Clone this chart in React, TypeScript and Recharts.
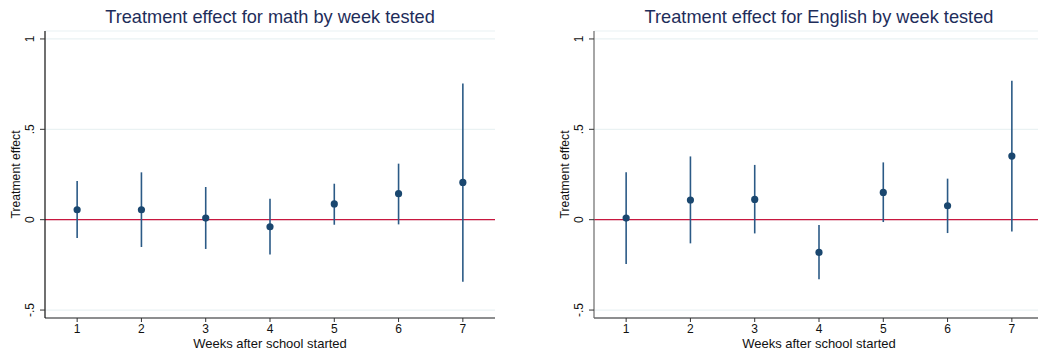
import React from "react";
import {
  ComposedChart,
  Scatter,
  ErrorBar,
  XAxis,
  YAxis,
  CartesianGrid,
  ReferenceLine,
} from "recharts";

const weeks = [1, 2, 3, 4, 5, 6, 7];
const xTicks = [1, 2, 3, 4, 5, 6, 7];
const yTicks = [-0.5, 0, 0.5, 1];
const yTickLabels = ["-.5", "0", ".5", "1"];

const mathEst = [0.055, 0.055, 0.009, -0.039, 0.087, 0.144, 0.206];
const mathLo = [-0.101, -0.151, -0.162, -0.192, -0.028, -0.026, -0.343];
const mathHi = [0.214, 0.262, 0.181, 0.116, 0.199, 0.31, 0.753];

const engEst = [0.009, 0.109, 0.112, -0.181, 0.151, 0.077, 0.352];
const engLo = [-0.245, -0.131, -0.076, -0.33, -0.013, -0.074, -0.066];
const engHi = [0.262, 0.35, 0.303, -0.029, 0.317, 0.227, 0.769];

const FONT = "'Liberation Sans', Arial, sans-serif";
const NAVY = "#1a476f";
const BAR = "#2b5a86";

function build(est: number[], lo: number[], hi: number[]) {
  return weeks.map((w, i) => ({
    week: w,
    est: est[i],
    err: [est[i] - lo[i], hi[i] - est[i]],
  }));
}

const YTick = (props: any) => {
  const { x, y, payload } = props;
  const idx = yTicks.indexOf(payload.value);
  const label = idx >= 0 ? yTickLabels[idx] : String(payload.value);
  const bx = x - 5.5;
  return (
    <text
      x={bx}
      y={y}
      transform={`rotate(-90 ${bx} ${y})`}
      textAnchor="middle"
      fontSize={12}
      fontFamily={FONT}
      fill="#111"
    >
      {label}
    </text>
  );
};

const XTick = (props: any) => {
  const { x, y, payload } = props;
  return (
    <text x={x} y={y + 11} textAnchor="middle" fontSize={12} fontFamily={FONT} fill="#111">
      {payload.value}
    </text>
  );
};

const Dot = (props: any) => {
  const { cx, cy } = props;
  return <circle cx={cx} cy={cy} r={3.6} fill={NAVY} />;
};

function Panel({
  title,
  est,
  lo,
  hi,
  left,
  yAxisColor,
}: {
  title: string;
  est: number[];
  lo: number[];
  hi: number[];
  left: number;
  yAxisColor: string;
}) {
  const data = build(est, lo, hi);
  return (
    <div style={{ position: "absolute", left, top: 0, width: 520, height: 350 }}>
      <div
        style={{
          position: "absolute",
          left: 45,
          width: 450,
          top: 6,
          textAlign: "center",
          fontFamily: FONT,
          fontSize: 18.2,
          lineHeight: "22px",
          color: "#1e2d5a",
          whiteSpace: "nowrap",
        }}
      >
        {title}
      </div>
      <ComposedChart
        width={520}
        height={350}
        data={data}
        margin={{ top: 31, right: 25, bottom: 0, left: 0 }}
      >
        <CartesianGrid vertical={false} stroke="#eaf2f3" strokeWidth={1.2} />
        <XAxis
          type="number"
          dataKey="week"
          domain={[0.5, 7.5]}
          ticks={xTicks}
          allowDataOverflow
          height={32}
          tickSize={4}
          tickMargin={0}
          tick={<XTick />}
          stroke="#6b6b6b"
          axisLine={{ stroke: "#6b6b6b", strokeWidth: 1.6 }}
          tickLine={{ stroke: "#333" }}
          label={{
            value: "Weeks after school started",
            position: "insideBottom",
            offset: 2.5,
            fontSize: 13,
            fontFamily: FONT,
            fill: "#111",
          }}
        />
        <YAxis
          type="number"
          dataKey="est"
          domain={[-0.544, 1.044]}
          ticks={yTicks}
          allowDataOverflow
          width={45}
          tickSize={5}
          tickMargin={0}
          tick={<YTick />}
          axisLine={{ stroke: yAxisColor, strokeWidth: 1.2 }}
          tickLine={{ stroke: "#333" }}
          label={{
            content: (p: any) => {
              const vb = p.viewBox || { x: 0, y: 31, width: 45, height: 287 };
              const cx = 19.5;
              const cy = vb.y + vb.height / 2;
              return (
                <text
                  x={cx}
                  y={cy}
                  transform={`rotate(-90 ${cx} ${cy})`}
                  textAnchor="middle"
                  fontSize={12.2}
                  fontFamily={FONT}
                  fill="#111"
                >
                  Treatment effect
                </text>
              );
            },
          }}
        />
        <ReferenceLine y={0} stroke="#c8173f" strokeWidth={1.2} />
        <Scatter dataKey="est" shape={<Dot />} isAnimationActive={false}>
          <ErrorBar
            dataKey="err"
            direction="y"
            width={0}
            stroke={BAR}
            strokeWidth={1.6}
            isAnimationActive={false}
          />
        </Scatter>
      </ComposedChart>
    </div>
  );
}

export default function App() {
  return (
    <div
      style={{
        position: "absolute",
        left: 0,
        top: 0,
        width: 1038,
        height: 350,
        overflow: "hidden",
        background: "#fff",
      }}
    >
      <Panel
        title="Treatment effect for math by week tested"
        est={mathEst}
        lo={mathLo}
        hi={mathHi}
        left={0}
        yAxisColor="#111"
      />
      <Panel
        title="Treatment effect for English by week tested"
        est={engEst}
        lo={engLo}
        hi={engHi}
        left={549}
        yAxisColor="#6b6b6b"
      />
    </div>
  );
}
